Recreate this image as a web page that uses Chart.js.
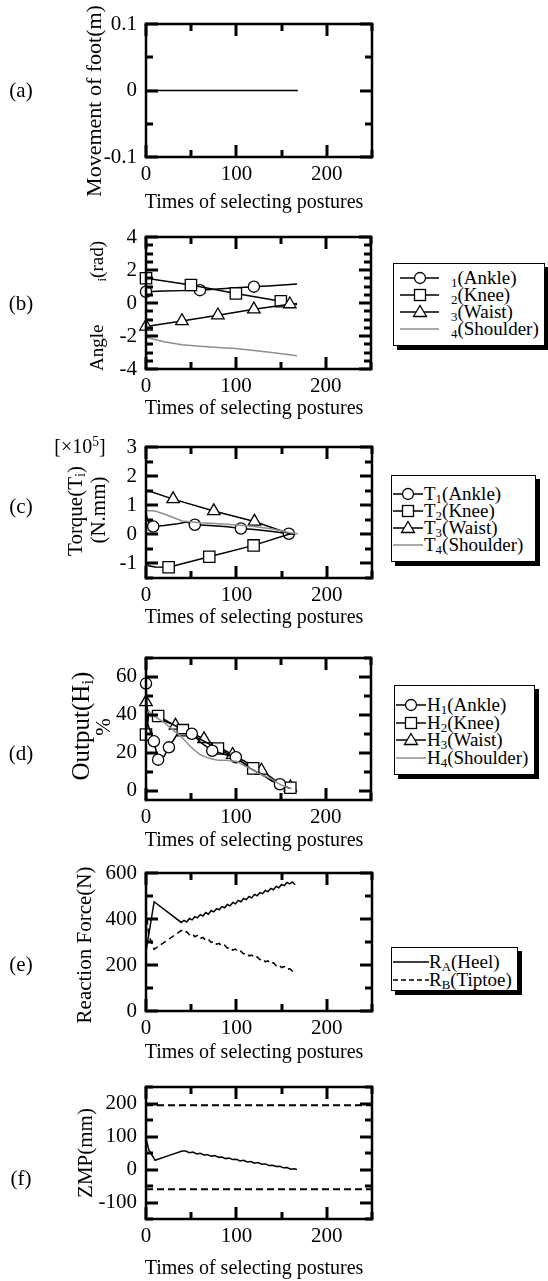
<!DOCTYPE html>
<html><head><meta charset="utf-8">
<script src="https://cdn.jsdelivr.net/npm/chart.js@4.4.1/dist/chart.umd.min.js"></script>
<style>
html,body{margin:0;padding:0;background:#fff;}
body{width:548px;height:1281px;position:relative;overflow:hidden;font-family:"Liberation Serif","Times New Roman",serif;color:#000;}
.t{position:absolute;white-space:nowrap;line-height:1;transform:translate(-50%,-50%);}
.r{position:absolute;white-space:nowrap;line-height:1;transform:translate(-50%,-50%) rotate(-90deg);}
sub{font-size:0.68em;vertical-align:-0.25em;line-height:0;}
sup{font-size:0.68em;vertical-align:0.5em;line-height:0;}
.leg{position:absolute;border:1px solid #000;background:#fff;box-shadow:4px 4px 0 #000;box-sizing:border-box;}
.row{position:absolute;left:0;height:20px;line-height:20px;font-size:19px;white-space:nowrap;}
.row svg{position:absolute;left:0;top:0;}
.row span{position:absolute;top:0;}
</style>
</head><body>
<script>
// ---------- shared axis ticks ----------
const xTickVals=[0,50,100,150,200,250];
const xMajorVals=[0,100,200];

// ---------- (a) movement of foot ----------
const footX=[0,168];
const footY=[0,0];
const aYTicks=[-0.1,-0.05,0,0.05,0.1];
const aYMajor=[-0.1,0,0.1];

// ---------- (b) angles ----------
const angAnkleX=[0,20,40,60,80,100,120,140,168];
const angAnkleY=[0.68,0.72,0.75,0.78,0.85,0.92,0.99,1.05,1.15];
const angAnkleMarks=[0,3,6];
const angKneeX=[0,50,100,150,168];
const angKneeY=[1.5,1.09,0.58,0.11,-0.09];
const angKneeMarks=[0,1,2,3];
const angWaistX=[0,40,80,120,160,168];
const angWaistY=[-1.42,-1.09,-0.74,-0.38,-0.07,-0.03];
const angWaistMarks=[0,1,2,3,4];
const angShoulderX=[0,20,40,60,80,100,120,140,168];
const angShoulderY=[-2.07,-2.35,-2.53,-2.62,-2.70,-2.76,-2.88,-3.0,-3.19];
const bYTicks=[-4,-3.5,-3,-2.5,-2,-1.5,-1,-0.5,0,0.5,1,1.5,2,2.5,3,3.5,4];
const bYMajor=[-4,-2,0,2,4];

// ---------- (c) torque (x10^5 N.mm) ----------
const tqAnkleX=[0,2,8,20,35,45,54,70,90,105,120,140,158,165];
const tqAnkleY=[0.72,0.45,0.27,0.3,0.36,0.42,0.33,0.3,0.26,0.2,0.17,0.1,0.02,0.02];
const tqAnkleMarks=[2,6,9,12];
const tqKneeX=[0,3,10,25,70,119,158,165];
const tqKneeY=[-0.95,-1.08,-1.12,-1.13,-0.77,-0.38,0.0,0.02];
const tqKneeMarks=[3,4,5];
const tqWaistX=[0,30,75,120,158,165];
const tqWaistY=[1.52,1.21,0.8,0.44,0.03,0.0];
const tqWaistMarks=[1,2,3];
const tqShoulderX=[0,10,20,30,40,60,80,100,120,140,160,168];
const tqShoulderY=[0.82,0.8,0.7,0.58,0.46,0.4,0.36,0.32,0.27,0.18,0.05,0.02];
const cYTicks=[-1.5,-1,-0.5,0,0.5,1,1.5,2,2.5,3];
const cYMajor=[-1,0,1,2,3];

// ---------- (d) output % ----------
const outAnkleX=[0,2,8.8,13.5,20,25.5,35,51,62,73.7,88,100,115,130,149,160];
const outAnkleY=[56.5,35,26,16.3,18,22.8,30,30,25,21,19,17.6,12,8,3.3,1.2];
const outAnkleMarks=[0,2,3,5,7,9,11,14];
const outKneeX=[0,3,13.5,41,80,119.3,140,160.6];
const outKneeY=[29.6,40,39.4,31.9,22.2,11.7,5,1.5];
const outKneeMarks=[0,2,3,4,5,7];
const outWaistX=[0,3,32.8,64.6,96.4,128.5,145,160.6];
const outWaistY=[46.7,40,34.3,27.2,18.9,10.6,5,1.8];
const outWaistMarks=[0,2,3,4,5,7];
const outShoulderX=[0,3,10,20,30,40,50,60,70,80,90,100,110,120,130,140,150,162];
const outShoulderY=[40,42,39,36,32,28,23,19,17,16,16,15.5,13,10.5,8,6,3,1];
const dYTicks=[0,10,20,30,40,50,60,70];
const dYMajor=[0,20,40,60];

// ---------- (e) reaction force ----------
const heelX=[0,9,39,42,45,48,51,54,57,60,63,66,69,72,75,78,81,84,87,90,93,96,99,102,105,108,111,114,117,120,123,126,129,132,135,138,141,144,147,150,153,156,159,162,165];
const heelY=[258,475,385,394,387,402,396,410,405,419,413,428,421,437,431,445,440,454,449,463,457,472,466,481,475,489,484,498,492,507,501,515,510,524,519,533,527,542,536,550,545,559,553,561,549];
const toeX=[0,3,9,39,42,45,48,51,54,57,60,63,66,69,72,75,78,81,84,87,90,93,96,99,102,105,108,111,114,117,120,123,126,129,132,135,138,141,144,147,150,153,156,159,162,165];
const toeY=[445,330,268,350,340,345,332,337,323,329,315,320,307,312,298,303,290,294,282,286,273,277,265,269,257,260,248,252,240,243,231,235,223,227,214,218,206,210,197,201,189,193,180,184,173,178];
const eYTicks=[0,100,200,300,400,500,600];
const eYMajor=[0,200,400,600];

// ---------- (f) ZMP ----------
const zmpX=[0,3,10,25,40,44,48,52,56,60,64,68,72,76,80,84,88,92,96,100,104,108,112,116,120,124,128,132,136,140,144,148,152,156,160,164,167];
const zmpY=[95,60,28,42,56,56,51,53,47,49,44,45,40,42,37,38,33,35,30,31,26,28,23,24,19,21,16,17,12,13,9,10,5,6,1,2,0];
const limitX=[0,250];
const heelLimitY=[195,195];
const toeLimitY=[-60,-60];
const fYTicks=[-150,-100,-50,0,50,100,150,200,250];
const fYMajor=[-100,0,100,200];

// ---------- helpers ----------
const FONT="'Liberation Serif','Times New Roman',serif";
const GRAY='#8e8e8e';
function pts(X,Y){return X.map((x,i)=>({x:x,y:Y[i]}));}
function radii(n,marks,r){const a=[];for(let i=0;i<n;i++)a.push(marks.includes(i)?r:0);return a;}
function series(X,Y,opt){
  opt=opt||{};
  const n=X.length;
  const style=opt.style||'circle';
  const r=style==='rect'?8:(style==='triangle'?7.2:5.6);
  return {
    data:pts(X,Y),
    borderColor:opt.color||'#000',
    borderWidth:opt.width||1.5,
    borderDash:opt.dash||[],
    pointStyle:style,
    pointRadius:opt.marks?radii(n,opt.marks,r):0,
    pointBackgroundColor:'#fff',
    pointBorderColor:'#000',
    pointBorderWidth:1.3,
    pointHoverRadius:0,
    tension:0,
    fill:false,
    clip:false
  };
}
function drawFrame(chart,yTicks,yMajor){
  const ctx=chart.ctx,a=chart.chartArea,xs=chart.scales.x,ys=chart.scales.y;
  ctx.save();
  ctx.fillStyle='#000';
  const L0=Math.round(a.left),R0=Math.round(a.right),T0=Math.round(a.top),B0=Math.round(a.bottom);
  const tw=3;
  for(const v of xTickVals){
    const p=Math.round(xs.getPixelForValue(v));
    const L=xMajorVals.indexOf(v)>=0?12:7;
    ctx.fillRect(p-1.5,B0-L,tw,L);
    ctx.fillRect(p-1.5,T0,tw,L);
  }
  for(const v of yTicks){
    const p=Math.round(ys.getPixelForValue(v));
    const L=yMajor.indexOf(v)>=0?12:7;
    ctx.fillRect(L0,p-1.5,L,tw);
    ctx.fillRect(R0-L,p-1.5,L,tw);
  }
  const bw=2.5;
  ctx.fillRect(L0-bw/2,T0-bw/2,R0-L0+bw,bw);
  ctx.fillRect(L0-bw/2,B0-bw/2,R0-L0+bw,bw);
  ctx.fillRect(L0-bw/2,T0-bw/2,bw,B0-T0+bw);
  ctx.fillRect(R0-bw/2,T0-bw/2,bw,B0-T0+bw);
  ctx.restore();
}
function panel(o){
  const padTop=28,xH=44;
  const wrap=document.createElement('div');
  wrap.style.cssText='position:absolute;left:0;top:'+(o.top-padTop)+'px;width:380px;height:'+(o.bottom-o.top+padTop+xH)+'px;';
  const cv=document.createElement('canvas');
  wrap.appendChild(cv);
  document.body.appendChild(wrap);
  new Chart(cv,{
    type:'line',
    data:{datasets:o.datasets},
    options:{
      responsive:true,maintainAspectRatio:false,animation:false,
      layout:{padding:{top:padTop,right:8,left:0,bottom:0}},
      plugins:{legend:{display:false},tooltip:{enabled:false}},
      events:[],
      scales:{
        x:{type:'linear',min:0,max:250,
          grid:{display:false,drawTicks:false},border:{display:false},
          afterBuildTicks:s=>{s.ticks=xTickVals.map(v=>({value:v}));},
          afterFit:s=>{s.height=xH;},
          ticks:{autoSkip:false,maxRotation:0,minRotation:0,padding:5,color:'#000',
            font:{family:FONT,size:21},
            callback:v=>xMajorVals.includes(v)?String(v):''}},
        y:{type:'linear',min:o.yMin,max:o.yMax,
          grid:{display:false,drawTicks:false},border:{display:false},
          afterBuildTicks:s=>{s.ticks=o.yTicks.map(v=>({value:v}));},
          afterFit:s=>{s.width=146;},
          ticks:{autoSkip:false,padding:9,color:'#000',
            font:{family:FONT,size:21},
            callback:v=>o.yMajor.includes(v)?String(v):''}}
      }
    },
    plugins:[{id:'frameTicks',afterDraw(chart){drawFrame(chart,o.yTicks,o.yMajor);}}]
  });
}

panel({top:24,bottom:157,yMin:-0.1,yMax:0.1,yTicks:aYTicks,yMajor:aYMajor,
  datasets:[series(footX,footY,{})]});
panel({top:237,bottom:369,yMin:-4,yMax:4,yTicks:bYTicks,yMajor:bYMajor,
  datasets:[
    series(angShoulderX,angShoulderY,{color:GRAY}),
    series(angWaistX,angWaistY,{style:'triangle',marks:angWaistMarks}),
    series(angKneeX,angKneeY,{style:'rect',marks:angKneeMarks}),
    series(angAnkleX,angAnkleY,{style:'circle',marks:angAnkleMarks})
  ]});
panel({top:447,bottom:578,yMin:-1.5,yMax:3,yTicks:cYTicks,yMajor:cYMajor,
  datasets:[
    series(tqShoulderX,tqShoulderY,{color:GRAY}),
    series(tqWaistX,tqWaistY,{style:'triangle',marks:tqWaistMarks}),
    series(tqKneeX,tqKneeY,{style:'rect',marks:tqKneeMarks}),
    series(tqAnkleX,tqAnkleY,{style:'circle',marks:tqAnkleMarks})
  ]});
panel({top:658,bottom:800,yMin:-5,yMax:70,yTicks:dYTicks,yMajor:dYMajor,
  datasets:[
    series(outShoulderX,outShoulderY,{color:GRAY}),
    series(outAnkleX,outAnkleY,{style:'circle',marks:outAnkleMarks}),
    series(outKneeX,outKneeY,{style:'rect',marks:outKneeMarks}),
    series(outWaistX,outWaistY,{style:'triangle',marks:outWaistMarks})
  ]});
panel({top:873,bottom:1011,yMin:0,yMax:600,yTicks:eYTicks,yMajor:eYMajor,
  datasets:[
    series(heelX,heelY,{}),
    series(toeX,toeY,{dash:[6,4]})
  ]});
panel({top:1086.5,bottom:1218.5,yMin:-150,yMax:250,yTicks:fYTicks,yMajor:fYMajor,
  datasets:[
    series(limitX,heelLimitY,{dash:[7,4],width:2}),
    series(limitX,toeLimitY,{dash:[7,4],width:2}),
    series(zmpX,zmpY,{})
  ]});

// ---------- legends ----------
function markerSvg(kind,x,y){
  if(kind==='circle')return '<circle cx="'+x+'" cy="'+y+'" r="5.5" fill="#fff" stroke="#000" stroke-width="1.3"/>';
  if(kind==='rect')return '<rect x="'+(x-5.5)+'" y="'+(y-5.5)+'" width="11" height="11" fill="#fff" stroke="#000" stroke-width="1.3"/>';
  if(kind==='triangle')return '<polygon points="'+x+','+(y-6.5)+' '+(x+6.5)+','+(y+4.5)+' '+(x-6.5)+','+(y+4.5)+'" fill="#fff" stroke="#000" stroke-width="1.3"/>';
  return '';
}
function legend(L){
  const box=document.createElement('div');
  box.className='leg';
  box.style.left=L.left+'px';box.style.top=L.top+'px';box.style.width=L.w+'px';box.style.height=L.h+'px';
  L.rows.forEach(r=>{
    const row=document.createElement('div');
    row.className='row';
    row.style.top=(r.y-10)+'px';row.style.width=L.w+'px';
    const dash=r.dash?' stroke-dasharray="'+r.dash+'"':'';
    row.innerHTML='<svg width="'+L.w+'" height="20"><line x1="'+L.x1+'" y1="10" x2="'+L.x2+'" y2="10" stroke="'+(r.color||'#000')+'" stroke-width="1.5"'+dash+'/>'+markerSvg(r.kind,L.mx,10)+'</svg><span style="left:'+L.tx+'px">'+r.html+'</span>';
    box.appendChild(row);
  });
  document.body.appendChild(box);
}
const angleLegendLabels=['<sub>1</sub>(Ankle)','<sub>2</sub>(Knee)','<sub>3</sub>(Waist)','<sub>4</sub>(Shoulder)'];
const torqueLegendLabels=['T<sub>1</sub>(Ankle)','T<sub>2</sub>(Knee)','T<sub>3</sub>(Waist)','T<sub>4</sub>(Shoulder)'];
const outputLegendLabels=['H<sub>1</sub>(Ankle)','H<sub>2</sub>(Knee)','H<sub>3</sub>(Waist)','H<sub>4</sub>(Shoulder)'];
const forceLegendLabels=['R<sub>A</sub>(Heel)','R<sub>B</sub>(Tiptoe)'];
const kinds=['circle','rect','triangle',null];
function fourRows(labels,y0,dy){return labels.map((h,i)=>({y:y0+i*dy,kind:kinds[i],color:i===3?GRAY:'#000',html:h}));}
legend({left:393,top:263,w:152,h:83,x1:6,x2:45,mx:26,tx:57,rows:fourRows(angleLegendLabels,14,17)});
legend({left:391,top:475,w:145,h:87,x1:1,x2:31,mx:16,tx:32,rows:fourRows(torqueLegendLabels,18,17)});
legend({left:394,top:685,w:141,h:90,x1:1,x2:31,mx:16,tx:32,rows:fourRows(outputLegendLabels,19,17.5)});
legend({left:391,top:947,w:127,h:44,x1:1,x2:37,mx:-50,tx:37,rows:[
  {y:14,kind:null,html:forceLegendLabels[0]},
  {y:32,kind:null,dash:'5,3',html:forceLegendLabels[1]}]});
</script>

<!-- panel letters -->
<div class="t" style="left:21px;top:90px;font-size:21px">(a)</div>
<div class="t" style="left:21px;top:303px;font-size:21px">(b)</div>
<div class="t" style="left:21px;top:506px;font-size:21px">(c)</div>
<div class="t" style="left:21px;top:753px;font-size:21px">(d)</div>
<div class="t" style="left:21px;top:964px;font-size:21px">(e)</div>
<div class="t" style="left:21px;top:1178px;font-size:21px">(f)</div>

<!-- x titles -->
<div class="t" style="left:254px;top:201px;font-size:20px">Times of selecting postures</div>
<div class="t" style="left:254px;top:407px;font-size:20px">Times of selecting postures</div>
<div class="t" style="left:254px;top:616px;font-size:20px">Times of selecting postures</div>
<div class="t" style="left:254px;top:839px;font-size:20px">Times of selecting postures</div>
<div class="t" style="left:254px;top:1051px;font-size:20px">Times of selecting postures</div>
<div class="t" style="left:254px;top:1267px;font-size:20px">Times of selecting postures</div>

<!-- y titles -->
<div class="r" style="left:94px;top:101px;font-size:22px">Movement of foot(m)</div>
<div class="r" style="left:96px;top:306px;font-size:19px">Angle<span style="display:inline-block;width:43px"></span><sub>i</sub>(rad)</div>
<div class="t" style="left:80px;top:446px;font-size:20px">[×10<sup>5</sup>]</div>
<div class="r" style="left:75px;top:511px;font-size:21px">Torque(T<sub>i</sub>)</div>
<div class="r" style="left:98px;top:510px;font-size:21px">(N.mm)</div>
<div class="r" style="left:80px;top:726px;font-size:25px">Output(H<sub>i</sub>)</div>
<div class="r" style="left:103px;top:727px;font-size:21px">%</div>
<div class="r" style="left:84px;top:945px;font-size:21px">Reaction Force(N)</div>
<div class="r" style="left:85px;top:1153px;font-size:21px">ZMP(mm)</div>
</body></html>
